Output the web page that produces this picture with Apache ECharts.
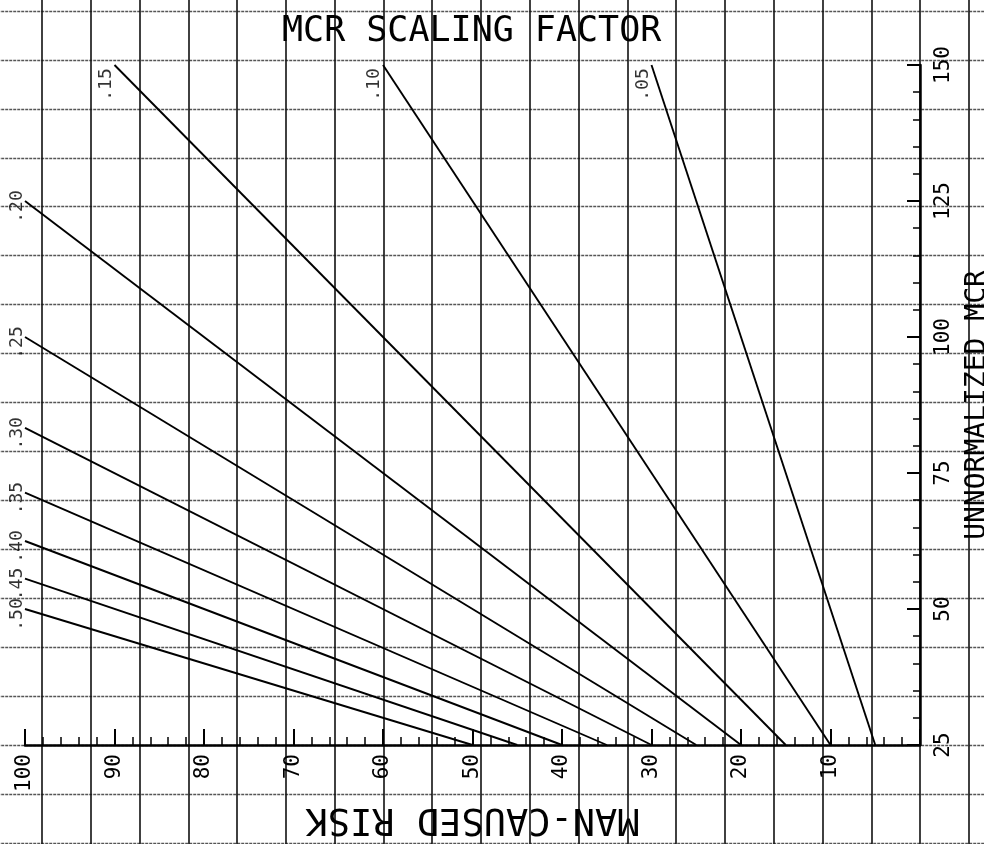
<!DOCTYPE html>
<html>
<head>
<meta charset="utf-8">
<script src="https://cdn.jsdelivr.net/npm/echarts@6/dist/echarts.min.js"></script>
<style>html,body{margin:0;padding:0;background:#fff}#c{width:984px;height:844px}</style>
</head>
<body>
<div id="c"></div>
<script>
// ---- data ----
const scaleFactors = ['.05', '.10', '.15', '.20', '.25', '.30', '.35', '.40', '.45', '.50'];
const baseUMCR = 25;                                   // every line starts on the x-axis (UMCR = 25)
const riskAtBase = [5, 10, 15, 20, 25, 30, 35, 40, 45, 50];          // man-caused risk at UMCR = 25
const riskAtEnd = [30, 60, 90, 100, 100, 100, 100, 100, 100, 100];   // man-caused risk at upper end
const umcrAtEnd = [150, 150, 150, 125, 100, 83.3, 71.4, 62.5, 55.6, 50]; // UMCR at upper end
const riskTicks = [0, 10, 20, 30, 40, 50, 60, 70, 80, 90, 100];
const umcrTicks = [25, 50, 75, 100, 125, 150];

const FONT = 'DejaVu Sans Mono';
const chart = echarts.init(document.getElementById('c'), null, {renderer: 'canvas'});

const series = [];
scaleFactors.forEach((sf, i) => {
  series.push({
    type: 'line', xAxisIndex: 0, yAxisIndex: 0,
    data: [[riskAtBase[i], baseUMCR], [riskAtEnd[i], umcrAtEnd[i]]],
    symbol: 'none', silent: true, animation: false,
    lineStyle: {color: '#000', width: 1.9}
  });
  const atTop = umcrAtEnd[i] >= 150;
  series.push({
    type: 'scatter', xAxisIndex: 0, yAxisIndex: 0,
    symbolSize: 1, itemStyle: {color: 'rgba(0,0,0,0)'}, animation: false, silent: true,
    data: [{
      value: [riskAtEnd[i], umcrAtEnd[i]],
      label: {
        show: true, formatter: sf, rotate: 90,
        position: atTop ? [-8, 20] : [-7, 6],
        align: 'center', verticalAlign: 'middle',
        fontFamily: FONT, fontSize: 18, color: '#000'
      }
    }]
  });
});

const option = {
  backgroundColor: '#fff',
  animation: false,
  title: {
    text: 'MCR SCALING FACTOR', left: 282, top: 14, padding: 0,
    textStyle: {fontFamily: FONT, fontSize: 35, fontWeight: 'normal', color: '#000'}
  },
  grid: [
    {left: 25, top: 65, width: 895, height: 680, containLabel: false, outerBoundsMode: 'none'},
    {left: -6.78, top: -37.93, width: 1024.38, height: 929.67, containLabel: false, outerBoundsMode: 'none'}
  ],
  xAxis: [
    {
      type: 'value', gridIndex: 0, min: 0, max: 100, interval: 10, inverse: true,
      name: 'MAN-CAUSED RISK', nameLocation: 'middle', nameGap: 54, nameRotate: 180,
      nameTextStyle: {fontFamily: FONT, fontSize: 37, color: '#000'},
      axisLine: {show: true, lineStyle: {color: '#000', width: 2.5}},
      axisTick: {show: true, inside: true, length: 16, lineStyle: {color: '#000', width: 2}},
      minorTick: {show: true, splitNumber: 5, length: 8, lineStyle: {color: '#000', width: 1.5}},
      splitLine: {show: false},
      axisLabel: {
        show: true, rotate: 90, margin: 9, showMinLabel: false,
        fontFamily: FONT, fontSize: 21, color: '#000',
        formatter: v => (riskTicks.indexOf(v) >= 0 && v !== 0 ? String(v) : '')
      }
    },
    {
      type: 'value', gridIndex: 1, min: 0, max: 21, interval: 1,
      axisLine: {show: false}, axisTick: {show: false}, axisLabel: {show: false},
      splitLine: {show: true, lineStyle: {color: '#111', width: 1.6}}
    }
  ],
  yAxis: [
    {
      type: 'value', gridIndex: 0, min: 25, max: 150, interval: 25, position: 'right',
      name: 'UNNORMALIZED MCR', nameLocation: 'middle', nameGap: 44, nameRotate: 90,
      nameTextStyle: {fontFamily: FONT, fontSize: 28, color: '#000'},
      axisLine: {show: true, lineStyle: {color: '#000', width: 2.5}},
      axisTick: {show: true, inside: true, length: 13, lineStyle: {color: '#000', width: 2}},
      minorTick: {show: true, splitNumber: 5, length: 7, lineStyle: {color: '#000', width: 1.5}},
      splitLine: {show: false},
      axisLabel: {
        show: true, rotate: 90, margin: 13,
        fontFamily: FONT, fontSize: 21, color: '#000',
        formatter: v => (umcrTicks.indexOf(v) >= 0 ? String(v) : '')
      }
    },
    {
      type: 'value', gridIndex: 1, min: 0, max: 19, interval: 1,
      axisLine: {show: false}, axisTick: {show: false}, axisLabel: {show: false},
      splitLine: {show: true, lineStyle: {color: '#555', width: 1.4, type: [3, 1]}}
    }
  ],
  series: series
};
chart.setOption(option);
</script>
</body>
</html>
